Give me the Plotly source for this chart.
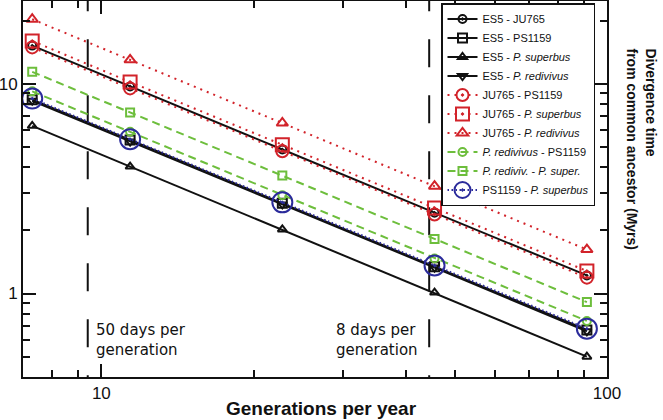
import plotly.graph_objects as go

# generations per year (50, 32, 16, 8, 4 days per generation)
gens_per_year = [7.3, 11.4, 22.8, 45.6, 91.25]

es5_ju765 = [15.2, 9.7, 4.86, 2.43, 1.22]
es5_ps1159 = [8.4, 5.4, 2.69, 1.34, 0.67]
es5_psuperbus = [6.3, 4.03, 2.02, 1.01, 0.50]
es5_predivivus = [8.3, 5.3, 2.66, 1.33, 0.66]
ju765_ps1159 = [14.9, 9.5, 4.77, 2.38, 1.19]
ju765_psuperbus = [16.0, 10.2, 5.12, 2.56, 1.28]
ju765_predivivus = [20.3, 13.0, 6.5, 3.25, 1.62]
predivivus_ps1159 = [9.2, 5.9, 2.94, 1.47, 0.74]
prediviv_psuper = [11.4, 7.3, 3.65, 1.82, 0.91]
ps1159_psuperbus = [8.5, 5.44, 2.72, 1.36, 0.68]

ref_lines_x = [9.4, 44.5]  # "50 days" and "8 days" per generation markers
y_span = [0.3, 30]

x_major = [10, 100]
x_minor = [8, 9, 20, 30, 40, 50, 60, 70, 80, 90]
y_major = [1, 10]
y_minor = [0.5, 0.6, 0.7, 0.8, 0.9, 2, 3, 4, 5, 6, 7, 8, 9, 20]

BLACK = "#111111"
RED = "#d2232a"
GREEN = "#6dbe3c"
BLUE = "#2b2b9b"

fig = go.Figure()

# vertical reference dashed lines
for xv in ref_lines_x:
    fig.add_trace(go.Scatter(x=[xv, xv], y=y_span, mode="lines",
                             line=dict(color=BLACK, width=2, dash="28px,28px"),
                             showlegend=False, hoverinfo="skip"))

series = [
    ("ES5 - JU765", es5_ju765, BLACK, "solid", "circle-open-dot", 8),
    ("ES5 - PS1159", es5_ps1159, BLACK, "solid", "square-open", 9),
    ("ES5 - <i>P. superbus</i>", es5_psuperbus, BLACK, "solid", "triangle-up-open", 8),
    ("ES5 - <i>P. redivivus</i>", es5_predivivus, BLACK, "solid", "triangle-down-open", 8),
    ("JU765 - PS1159", ju765_ps1159, RED, "2px,5px", "circle-open-dot", 12),
    ("JU765 - <i>P. superbus</i>", ju765_psuperbus, RED, "2px,5px", "square-open-dot", 13),
    ("JU765 - <i>P. redivivus</i>", ju765_predivivus, RED, "2px,5px", "triangle-up-open", 10),
    ("<i>P. redivivus</i> - PS1159", predivivus_ps1159, GREEN, "8px,5px", "circle-open", 8),
    ("<i>P. rediviv.</i> - <i>P. super.</i>", prediviv_psuper, GREEN, "8px,5px", "square-open", 8),
    ("PS1159 - <i>P. superbus</i>", ps1159_psuperbus, BLUE, "1.5px,2.5px", "circle-open-dot", 20),
]

for name, vals, col, dash, sym, size in series:
    fig.add_trace(go.Scatter(
        x=gens_per_year, y=vals, mode="lines+markers", name=name,
        line=dict(color=col, width=2, dash=dash),
        marker=dict(symbol=sym, size=size, color=col, line=dict(color=col, width=2)),
    ))

axis_common = dict(
    showline=True, linecolor=BLACK, linewidth=2, mirror="ticks",
    ticks="inside", ticklen=13, tickwidth=2, tickcolor=BLACK,
    showgrid=False, zeroline=False, automargin=False,
    tickfont=dict(family="Liberation Sans, Arial, sans-serif", size=17, color=BLACK),
)

fig.update_xaxes(type="log", range=[0.8451, 2.0], tickmode="array", tickvals=x_major,
                 ticktext=[str(v) for v in x_major],
                 minor=dict(tickmode="array", tickvals=x_minor, ticks="inside", ticklen=7,
                            tickwidth=2, tickcolor=BLACK, showgrid=False),
                 **axis_common)
fig.update_yaxes(type="log", range=[-0.398, 1.3945], tickmode="array", tickvals=y_major,
                 ticktext=[str(v) for v in y_major],
                 minor=dict(tickmode="array", tickvals=y_minor, ticks="inside", ticklen=7,
                            tickwidth=2, tickcolor=BLACK, showgrid=False),
                 **axis_common)

PW, PH = 584, 376
L, T = 23, 1

def px(x):
    return (x - L) / PW

def py(y):
    return 1 - (y - T) / PH

annotations = [
    dict(text="Generations per year", x=px(321), y=py(409), xref="paper", yref="paper",
         showarrow=False, xanchor="center", yanchor="middle",
         font=dict(family="Liberation Sans, Arial, sans-serif", size=19, color=BLACK, weight="bold")),
    dict(text="Divergence time<br>from common ancestor (Myrs)", x=px(642), y=py(46),
         xref="paper", yref="paper", showarrow=False, textangle=90, align="left",
         xanchor="center", yanchor="top",
         font=dict(family="Liberation Sans, Arial, sans-serif", size=14, color=BLACK, weight="bold")),
    dict(text="50 days per<br>generation", x=px(94), y=py(340), xref="paper", yref="paper",
         showarrow=False, xanchor="left", yanchor="middle", align="left",
         font=dict(family="DejaVu Sans, sans-serif", size=15, color=BLACK)),
    dict(text="8 days per<br>generation", x=px(334), y=py(340), xref="paper", yref="paper",
         showarrow=False, xanchor="left", yanchor="middle", align="left",
         font=dict(family="DejaVu Sans, sans-serif", size=15, color=BLACK)),
]

fig.update_layout(
    width=663, height=420,
    margin=dict(l=L, r=663 - 607, t=T, b=420 - 377, autoexpand=False),
    paper_bgcolor="white", plot_bgcolor="white",
    showlegend=True,
    legend=dict(x=px(441), y=py(3), xanchor="left", yanchor="top",
                bgcolor="white", bordercolor=BLACK, borderwidth=1.5,
                font=dict(family="Liberation Sans, Arial, sans-serif", size=11, color=BLACK),
                tracegroupgap=0, itemwidth=30),
    annotations=annotations,
)

fig.write_html("out.html", config={"displayModeBar": False},
               post_script="document.body.style.margin='0';")
